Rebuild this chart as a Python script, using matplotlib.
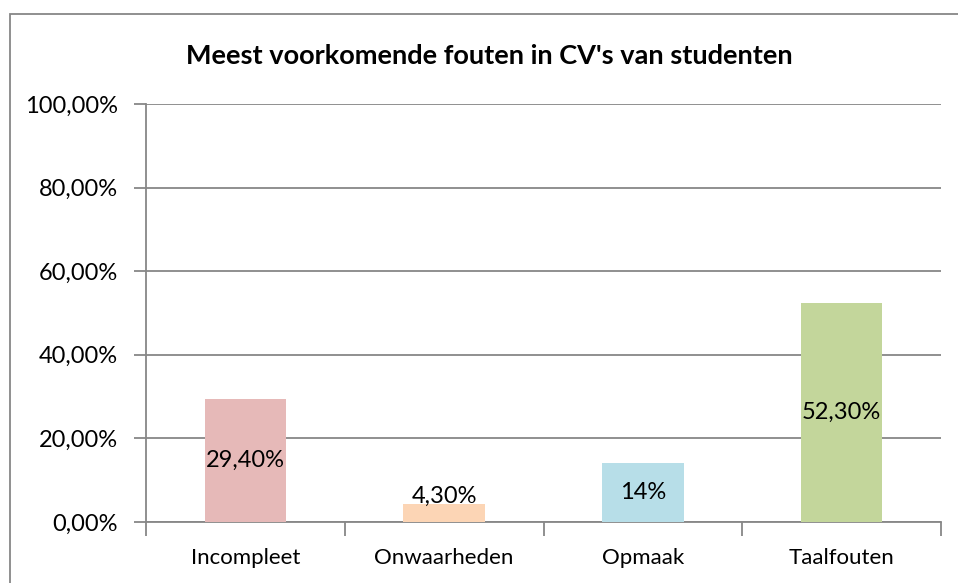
import matplotlib.pyplot as plt
from matplotlib.patches import Rectangle
from matplotlib.ticker import FuncFormatter

# data
categories = ['Incompleet', 'Onwaarheden', 'Opmaak', 'Taalfouten']
values = [29.4, 4.3, 14.0, 52.3]
labels = ['29,40%', '4,30%', '14%', '52,30%']
colors = ['#E6B9B8', '#FCD5B5', '#B7DEE8', '#C3D69B']
yticks = [0, 20, 40, 60, 80, 100]

plt.rcParams['font.family'] = ['Lato', 'DejaVu Sans']
grid_col = '#878787'

fig = plt.figure(figsize=(9.58, 5.83), dpi=100)
ax = fig.add_axes([146 / 958, 1 - 522 / 583, 795 / 958, 418 / 583])

# chart border (runs off right and bottom edges)
fig.patches.append(Rectangle((10 / 958, -0.05), 1.0, 1 - 14 / 583 + 0.05,
                             transform=fig.transFigure, fill=False,
                             edgecolor=grid_col, linewidth=1.3, zorder=0))

x = range(len(categories))
ax.bar(x, values, width=0.41, color=colors, zorder=3)

for i, (v, lab) in enumerate(zip(values, labels)):
    if v < 8:
        ax.text(i, v - 0.6, lab, ha='center', va='bottom', fontsize=17, zorder=4)
    else:
        ax.text(i, v / 2, lab, ha='center', va='center', fontsize=17, zorder=4)

ax.set_xlim(-0.5, len(categories) - 0.5)
ax.set_ylim(0, 100)
ax.set_yticks(yticks)
ax.yaxis.set_major_formatter(FuncFormatter(lambda v, p: f'{v:.2f}%'.replace('.', ',')))
ax.yaxis.grid(True, color=grid_col, linewidth=1.3, zorder=0)
ax.tick_params(axis='y', length=9, width=1.3, color=grid_col, labelsize=17, pad=11)

# category labels between boundary ticks
ax.set_xticks([i - 0.5 for i in range(len(categories) + 1)])
ax.set_xticklabels([])
ax.set_xticks(list(x), minor=True)
ax.set_xticklabels(categories, minor=True)
ax.tick_params(axis='x', which='major', length=10, width=1.3, color=grid_col, direction='out')
ax.tick_params(axis='x', which='minor', length=0, labelsize=16, pad=19)

for s in ['top', 'right']:
    ax.spines[s].set_visible(False)
for s in ['left', 'bottom']:
    ax.spines[s].set_color(grid_col)
    ax.spines[s].set_linewidth(1.3)

fig.text(489 / 958, 1 - 56 / 583, "Meest voorkomende fouten in CV's van studenten",
         ha='center', va='center', fontsize=19.5, fontweight='bold')

fig.savefig('out.png', dpi=100)
